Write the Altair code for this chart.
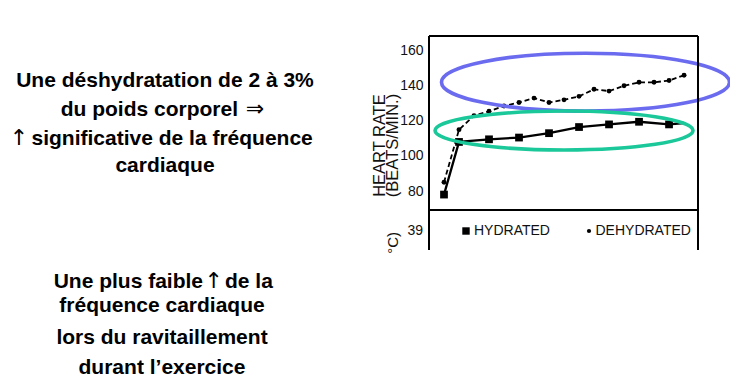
import altair as alt
import pandas as pd

# ---- data ----
dehyd_time = [0, 10, 20, 30, 40, 50, 60, 70, 80, 90, 100, 110, 120, 130, 140, 150, 160]
dehyd_hr = [85, 115, 123, 125.5, 128.5, 130.5, 133, 130.5, 132, 134, 138, 137, 140, 142, 142, 143, 146]

hyd_time = [0, 10, 30, 50, 70, 90, 110, 130, 150, 160]
hyd_hr = [78, 108, 109.5, 110.5, 113, 116.5, 118, 119.5, 118, 118.8]
hyd_marker = [True, True, True, True, True, True, True, True, True, False]

ytick_values = [80, 100, 120, 140, 160]
y_title = ["HEART RATE", "(BEATS/MIN.)"]
legend_labels = ["HYDRATED", "DEHYDRATED"]
lower_tick = ["39"]
lower_title = ["°C)"]

# highlight ellipses (centre in data units)
ell_t = [94.3, 80]
ell_hr = [142.1, 114.5]
ell_color = ["#6b6bf0", "#1bc899"]

# left-hand text, as segments (text, kind)
block1 = [
    [("Une déshydratation de 2 à 3%", "b")],
    [("du poids corporel", "b"), ("⇒", "s")],
    [("↑", "s"), ("significative de la fréquence", "b")],
    [("cardiaque", "b")],
]
block2 = [
    [("Une plus faible", "b"), ("↑", "s"), ("de la", "b")],
    [("fréquence cardiaque", "b")],
    [("lors du ravitaillement", "b")],
    [("durant l’exercice", "b")],
]

# ---- layout (style) ----
W, H = 269, 174
X0, Y0 = 429, 36          # plot origin on the page
FONT = "Liberation Sans"
block1_layout = [
    ([(165, "center")], 87),
    ([(238, "right"), (255, "center")], 116),
    ([(19, "center"), (31.5, "left")], 145),
    ([(165, "center")], 172),
]
block2_layout = [
    ([(203, "right"), (213.8, "center"), (225, "left")], 288),
    ([(162, "center")], 312),
    ([(162, "center")], 344),
    ([(162, "center")], 374),
]

x_scale = alt.Scale(domain=[-10, 169.3], nice=False, zero=False)
y_scale = alt.Scale(domain=[69.2, 168.4], nice=False, zero=False)

dehyd = pd.DataFrame({"t": dehyd_time, "hr": dehyd_hr})
hyd = pd.DataFrame({"t": hyd_time, "hr": hyd_hr, "m": hyd_marker})

x_enc = alt.X("t:Q", scale=x_scale, axis=None)
y_enc = alt.Y("hr:Q", scale=y_scale,
              axis=alt.Axis(values=ytick_values, domain=False, ticks=False, grid=False,
                            labelPadding=6, labelFontSize=14, labelColor="#111",
                            labelFont=FONT, title=y_title, titleFont=FONT,
                            titleFontSize=16.5, titleFontWeight="normal", titleColor="#111",
                            titleAngle=270, titleX=-50, titleY=109, titleAlign="center",
                            titleBaseline="middle", titleLineHeight=13.5))

hyd_line = alt.Chart(hyd).mark_line(color="black", strokeWidth=2.3).encode(x=x_enc, y=y_enc)
hyd_pts = alt.Chart(hyd).transform_filter("datum.m").mark_point(
    shape="square", filled=True, size=60, color="black", opacity=1).encode(x=x_enc, y=y_enc)
dehyd_line = alt.Chart(dehyd).mark_line(color="black", strokeWidth=1.8, strokeDash=[5, 3]).encode(x=x_enc, y=y_enc)
dehyd_pts = alt.Chart(dehyd).mark_point(
    shape="circle", filled=True, size=24, color="black", opacity=1).encode(x=x_enc, y=y_enc)

ell_layers = []
ell_shapes = ["M-1,0A1,0.201,0,1,0,1,0A1,0.201,0,1,0,-1,0Z",
              "M-1,0A1,0.151,0,1,0,1,0A1,0.151,0,1,0,-1,0Z"]
ell_sizes = [288 ** 2, 258 ** 2]
for i in range(2):
    d = pd.DataFrame({"t": [ell_t[i]], "hr": [ell_hr[i]]})
    ell_layers.append(alt.Chart(d).mark_point(
        shape=ell_shapes[i], size=ell_sizes[i], filled=False, stroke=ell_color[i],
        strokeWidth=3.6, opacity=1).encode(x=x_enc, y=y_enc))

one = pd.DataFrame({"a": [0]})
frame = [
    alt.Chart(one).mark_rule(color="black", strokeWidth=2).encode(
        x=alt.value(0), y=alt.value(0), y2=alt.value(H + 40)),
    alt.Chart(one).mark_rule(color="black", strokeWidth=2).encode(
        x=alt.value(W), y=alt.value(0), y2=alt.value(H + 40)),
    alt.Chart(one).mark_rule(color="black", strokeWidth=2).encode(
        x=alt.value(0), x2=alt.value(W), y=alt.value(0)),
    alt.Chart(one).mark_rule(color="black", strokeWidth=2).encode(
        x=alt.value(0), x2=alt.value(W), y=alt.value(H)),
]

lower = []
lower.append(alt.Chart(pd.DataFrame({"s": lower_tick})).mark_text(
    font=FONT, fontSize=14, color="#111", align="right", baseline="middle").encode(
    x=alt.value(-6), y=alt.value(195), text="s:N"))
lower.append(alt.Chart(pd.DataFrame({"s": lower_title})).mark_text(
    font=FONT, fontSize=15, color="#111", align="right", baseline="middle", angle=270).encode(
    x=alt.value(-36), y=alt.value(196), text="s:N"))
lower.append(alt.Chart(one).mark_point(shape="square", filled=True, size=55, color="black", opacity=1).encode(
    x=alt.value(37), y=alt.value(195)))
lower.append(alt.Chart(one).mark_point(shape="circle", filled=True, size=18, color="black", opacity=1).encode(
    x=alt.value(160), y=alt.value(195)))
for lab, xv in zip(legend_labels, (45, 166.5)):
    lower.append(alt.Chart(pd.DataFrame({"s": [lab]})).mark_text(
        font=FONT, fontSize=14, color="#111", align="left", baseline="middle").encode(
        x=alt.value(xv), y=alt.value(195), text="s:N"))

texts = []
for block, layout in ((block1, block1_layout), (block2, block2_layout)):
    for segs, (pos, yb) in zip(block, layout):
        for (txt, kind), (xa, al) in zip(segs, pos):
            if kind == "b":
                mk = dict(font=FONT, fontSize=21, fontWeight="bold")
            else:
                mk = dict(font="DejaVu Sans", fontSize=22, fontWeight="normal")
            texts.append(alt.Chart(pd.DataFrame({"s": [txt]})).mark_text(
                color="black", align=al, baseline="alphabetic", **mk).encode(
                x=alt.value(xa - X0), y=alt.value(yb - Y0), text="s:N"))

chart = alt.layer(
    hyd_line, hyd_pts, dehyd_line, dehyd_pts, *ell_layers, *frame, *lower, *texts
).properties(
    width=W, height=H,
    padding={"left": X0 - 8, "top": Y0 - 8, "right": 32, "bottom": 170},
    autosize=alt.AutoSizeParams(type="none"),
).configure_view(stroke=None).configure(background="white")

chart.save("out.html", embed_options={"renderer": "svg", "actions": False})
